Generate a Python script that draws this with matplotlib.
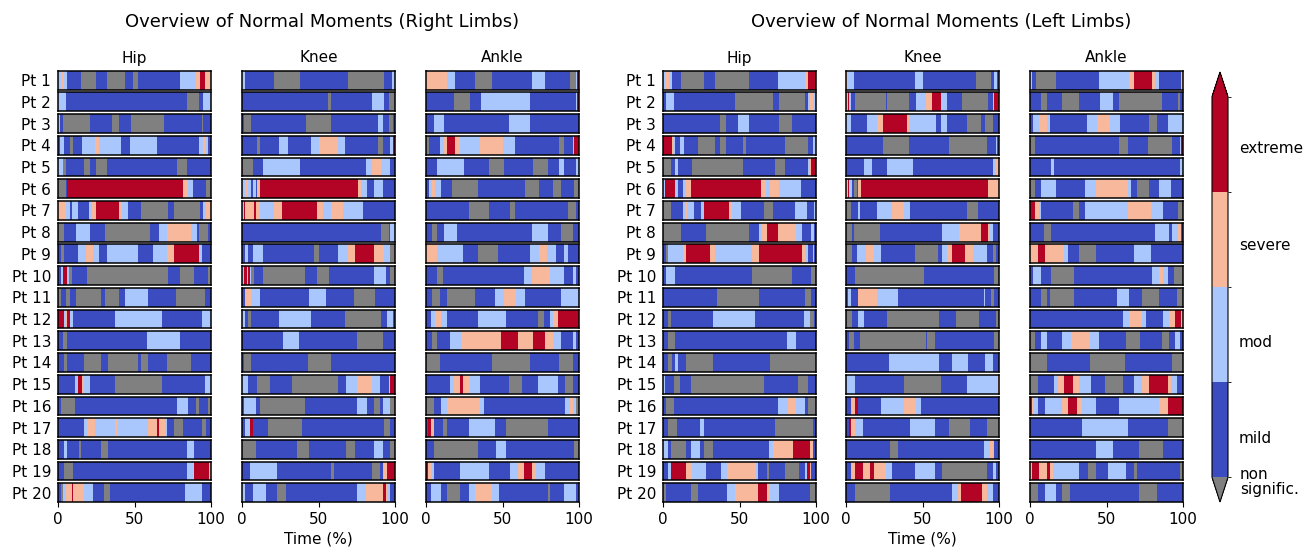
import matplotlib
matplotlib.use("Agg")
import matplotlib.pyplot as plt
import numpy as np
from matplotlib.colors import ListedColormap, BoundaryNorm

# ---------------- data ----------------
patients = [f"Pt {i}" for i in range(1, 21)]
joints = ["Hip", "Knee", "Ankle"]
level_names = ["mild", "mod", "severe", "extreme"]
under_name = "non\nsignific."
# segment codes: N=non significant, B=mild, L=mod, S=severe, R=extreme; number = segment end (% of time)
codes = {"N": 0, "B": 1, "L": 2, "S": 3, "R": 4}

right_hip = [
    "L2 S4 L6 B15 N25 B32 N44 B49 N52 B80 L90 S93 R96 S100",
    "L5 B84 N92 B95 L100",
    "L1 B3 N21 B35 N40 B48 N69 B94 N95 B100",
    "B1 L4 B8 N10 B16 L24 S27 L41 B47 L65 B92 L95 S97 L98 B100",
    "L3 N5 B17 N21 B25 N32 B78 N84 B100",
    "N5 B6 R82 S85 L88 B97 N100",
    "S5 L8 B9 L13 B20 L22 S25 R40 S42 L46 B54 N72 B76 N93 B95 L97 S100",
    "N4 B12 L21 B31 N60 B66 L71 S87 L91 B92 N98 B100",
    "B2 N4 B13 L18 S23 L27 B32 L52 B62 L71 S76 R92 L94 B100",
    "B2 L3 R6 L7 N9 B19 N72 B80 N89 B98 N100",
    "N2 B5 N8 B12 N28 B31 N40 B44 L59 B77 N96 B100",
    "R4 L5 S6 R8 L10 B37 L68 B94 L100",
    "B3 N6 B58 L80 B100",
    "B4 N6 B17 N28 B33 N52 B54 N59 B71 N87 B100",
    "B11 L13 R16 S17 L21 B37 N68 B96 L100",
    "B2 N11 B78 L85 B90 N92 B98 N100",
    "B17 L19 S24 L37 S39 L59 S65 R66 S70 L71 B76 N82 B94 N97 B100",
    "B4 L6 B14 N15 B28 N33 B84 L89 B100",
    "B4 N10 B84 L88 S89 R99 S100",
    "B2 N3 L5 S9 R10 S17 L23 B30 N34 B83 L94 B100",
]
right_knee = [
    "L2 B21 N38 B69 N93 B98 L100",
    "B56 N58 B85 L93 B96 N100",
    "B1 N6 B42 N58 B89 L92 B96 N99 B100",
    "B10 N12 B24 L30 B45 L50 S63 L67 B89 N92 B97 L99 R100",
    "N7 B14 L38 B81 L85 S91 L97 B100",
    "L2 S4 L6 B7 L9 B10 S12 R76 S78 L82 B86 L92 B100",
    "L1 R2 S8 R9 S12 L21 S26 R49 S53 L58 S66 L79 B100",
    "B91 N96 B97 L100",
    "B2 L4 B7 L14 B47 N50 B63 L69 S74 R86 S93 L97 N100",
    "L1 R3 S4 R5 L6 N8 B14 N41 B49 N57 B86 L94 B97 N100",
    "B2 S6 L12 B44 L55 B73 N87 B100",
    "L2 B4 N6 B24 L45 B67 N91 B95 L99 B100",
    "B27 L37 B75 N92 B100",
    "B1 N6 B43 N58 B100",
    "L4 B10 N18 B33 N63 B68 L75 S85 L90 B96 S97 R100",
    "B1 L9 B12 N41 B75 L82 B86 N90 B92 L97 N100",
    "B2 L5 R7 B17 N39 B93 N97 B100",
    "N9 B36 N44 B68 N74 B86 L92 B97 N100",
    "B5 L23 B58 N60 B85 N90 B92 L93 S95 R100",
    "L2 B7 L16 B23 N29 B75 L81 S92 R94 S95 L97 B100",
]
right_ankle = [
    "S14 L19 B32 N43 B69 L78 B94 N98 L99 R100",
    "B18 N29 B36 L68 B98 L99 R100",
    "B5 L12 B54 L68 B100",
    "N2 B9 L12 S14 R19 S22 L35 S50 L58 B87 N90 B96 L97 R100",
    "B7 L25 B41 N51 B70 N80 B87 L90 B98 L100",
    "B2 L4 S6 L10 B17 N34 B65 N74 B83 N88 B97 N100",
    "B28 N41 B55 N58 B93 N98 B100",
    "B4 N7 B12 L20 B69 L80 B88 N96 B100",
    "S7 L24 B34 N47 B68 L74 S79 L85 B90 L93 B100",
    "B7 N11 B64 L69 S81 L90 B96 L98 B100",
    "B4 N9 B14 N32 B45 L51 S59 L65 B88 L100",
    "B3 L6 S10 L14 B34 L52 B73 N77 B81 L83 S86 R100",
    "B4 N7 B16 L23 S49 R60 S70 R78 S83 L88 B96 L98 B100",
    "N9 B43 N68 B87 N96 B100",
    "B16 L18 S22 R24 S29 L35 B54 N63 B73 L86 B91 N96 B100",
    "N5 B10 L14 S35 L38 B91 L94 S96 L98 N100",
    "B1 R3 S5 B11 N14 B28 L45 B52 N80 B100",
    "B5 N34 B46 L52 B97 N100",
    "R1 S3 L5 B22 L41 B55 L60 S64 R69 S72 L78 B100",
    "B3 L10 B14 N22 B28 L32 S43 L48 B80 N81 B90 L98 B100",
]
left_hip = [
    "L1 S4 L6 B12 N27 B34 N56 B75 L93 S95 R100",
    "B2 L7 B47 N72 B76 N93 B95 L96 S98 L100",
    "B37 N41 B49 L56 B76 N84 B100",
    "R6 S7 L8 B11 L14 B23 N34 B37 N41 B52 N54 B80 N95 B98 L100",
    "N5 B8 L10 B19 N52 B73 N80 B95 L96 S97 R100",
    "L1 R8 L10 B13 L15 S18 R64 S67 L70 S76 L90 B100",
    "N5 B13 L15 S16 L20 B25 L27 R43 S45 L51 B66 N72 B86 L94 B99 L100",
    "N12 B28 N56 B63 L65 S68 R75 S87 L91 B97 L99 B100",
    "B2 N3 L13 S15 R31 S34 L58 S63 R91 S93 L95 B98 L99 B100",
    "B2 L8 B58 N84 B97 N100",
    "B35 N63 B93 N97 B100",
    "B3 N5 B33 L60 B92 L96 N99 B100",
    "B3 N8 B81 L87 B100",
    "B3 N6 B8 L10 B15 N33 B70 N100",
    "L1 B7 N11 B18 N66 B88 N95 B100",
    "B2 N7 B75 L82 S87 L93 B95 N100",
    "B3 N9 B24 L27 B73 N98 B100",
    "L3 B5 N15 B18 L24 B27 N33 B69 L72 S85 R96 S98 B100",
    "B3 L5 R15 S19 L28 B38 L42 S61 L62 B68 N69 B80 N89 B93 L94 R96 S97 B100",
    "N2 B18 N23 B42 L47 S62 R68 S70 L76 B96 N100",
]
left_knee = [
    "S1 L5 B45 L50 B85 N95 B97 L99 B100",
    "S1 R2 L3 B6 N26 B27 N41 B46 L52 S56 R62 S63 L66 B76 N93 B96 S97 R100",
    "L3 B14 L20 S24 R40 S41 L59 B62 L66 B79 N88 B91 N96 B100",
    "B24 N41 B67 N92 B98 L99 B100",
    "B12 L17 B27 L44 B96 L98 S100",
    "S1 R2 L4 B5 N7 B8 S10 R93 S100",
    "N3 B8 L9 B20 L30 S38 L42 B79 N86 B100",
    "N4 B5 N22 B63 L74 S88 R93 S94 L96 B100",
    "N4 B7 L13 S18 L23 B45 N60 B63 L66 S69 R78 S83 L92 B96 N98 B100",
    "B6 N51 B97 N100",
    "B1 L3 B8 S20 L34 B90 L91 B95 N97 B100",
    "N4 B8 L12 B27 N61 B72 N87 B98 N100",
    "B2 N5 B9 N52 B53 N58 B97 N100",
    "B28 L61 B69 L80 B91 L96 B100",
    "L6 B38 N62 B79 L99 S100",
    "B3 L4 S6 R8 B23 L38 S46 L49 B100",
    "B2 R3 S6 L11 B42 L58 B67 N81 B92 N100",
    "B29 N34 B90 L94 S96 L97 B100",
    "B3 L4 S6 R11 S16 R18 S26 L30 B45 L58 B63 N92 B96 L98 B100",
    "B6 N29 B69 L73 S75 R89 S92 L96 B100",
]
left_ankle = [
    "L1 B4 N17 B45 L65 S68 R80 S82 L84 B99 S100",
    "B7 N11 B21 N32 B46 L54 B58 N86 B97 N98 B100",
    "B2 L6 S11 L13 B37 L44 S52 L59 B78 N83 B90 L100",
    "N3 B58 N64 B77 N93 B98 L99 R100",
    "B14 L16 B98 L100",
    "N3 B7 L17 B36 L43 S64 L66 B70 N78 B84 L92 B100",
    "R3 S6 L7 B28 N32 B36 L64 S79 L87 B97 N100",
    "B9 N14 B82 L91 B93 L97 S99 B100",
    "S5 R10 S22 L25 B32 N43 B68 L79 B100",
    "B2 L7 B14 N29 B80 L84 S87 L90 B94 N100",
    "B7 N11 B13 N29 B57 L65 B73 N84 B96 N100",
    "B61 L65 S73 L76 B87 L91 S95 R99 S100",
    "N3 B7 L11 B21 L27 S39 L45 B63 N72 B86 N91 B95 L98 B100",
    "N11 B39 N62 B93 N100",
    "N5 B16 L18 S22 R28 S32 L40 B49 N61 B68 L73 S78 R90 S92 L96 B100",
    "R1 S2 L5 B10 L21 S25 R31 S34 L43 B58 L84 S90 R100",
    "B34 L64 B90 N100",
    "B43 L54 B71 N87 B100",
    "S1 R6 S11 R13 S15 L32 B38 N43 B51 L63 B68 N70 B98 N100",
    "N5 B10 L17 B21 N26 B71 N83 B100",
]

groups = [
    ("Overview of Normal Moments (Right Limbs)", [right_hip, right_knee, right_ankle]),
    ("Overview of Normal Moments (Left Limbs)", [left_hip, left_knee, left_ankle]),
]

# ---------------- style ----------------
W, H = 1309, 547
fig = plt.figure(figsize=(W / 100, H / 100), dpi=100)

base = plt.get_cmap("coolwarm", 4)
cols = [base(i) for i in range(4)]
cmap = ListedColormap(cols)
cmap.set_under("gray")
cmap.set_over(cols[-1])
norm = BoundaryNorm([0.5, 1.5, 2.5, 3.5, 4.5], cmap.N)


def px_axes(x0, y0, w, h):
    return fig.add_axes([x0 / W, 1 - (y0 + h) / H, w / W, h / H])


def parse(s):
    ends = [0.0]
    cats = []
    for tok in s.split():
        cats.append(codes[tok[0]])
        ends.append(float(tok[1:]))
    return np.array(ends), np.array(cats)


col_left = [[58, 242, 426], [663, 846, 1030]]
col_w = 153
row_top0, row_pitch, row_h = 70.7, 21.72, 18.8
title_x = [322, 941]
fs = 11

for g, (title, panels) in enumerate(groups):
    fig.text(title_x[g] / W, 1 - 22 / H, title, ha="center", va="center", fontsize=13)
    for c, (jname, rows) in enumerate(zip(joints, panels)):
        x0 = col_left[g][c]
        fig.text((x0 + col_w / 2) / W, 1 - 58 / H, jname, ha="center", va="center", fontsize=fs)
        for r, s in enumerate(rows):
            ax = px_axes(x0, row_top0 + r * row_pitch, col_w, row_h)
            edges, cats = parse(s)
            ax.pcolormesh(edges, [0, 1], cats[None, :], cmap=cmap, norm=norm)
            ax.set_xlim(0, 100)
            ax.set_ylim(0, 1)
            for sp in ax.spines.values():
                sp.set_linewidth(1.1)
            if c == 0:
                ax.set_yticks([0.5])
                ax.set_yticklabels([patients[r]], fontsize=fs)
                ax.tick_params(axis="y", length=0, pad=5)
            else:
                ax.set_yticks([])
            if r == len(rows) - 1:
                ax.set_xticks([0, 50, 100])
                ax.tick_params(axis="x", labelsize=fs)
            else:
                ax.set_xticks([])
        if c == 1:
            fig.text((x0 + col_w / 2) / W, 1 - 531 / H, "Time (%)", ha="center", va="top", fontsize=fs)

# colorbar
cax = px_axes(1212, 72, 16, 430)
sm = plt.cm.ScalarMappable(cmap=cmap, norm=norm)
cb = fig.colorbar(sm, cax=cax, extend="both", extendfrac=0.065,
                  ticks=[0.92, 1.93, 2.95, 3.97])
cb.ax.set_yticklabels(level_names, fontsize=fs)
cb.ax.tick_params(length=0, pad=8)
cb.outline.set_linewidth(0.8)
fig.text(1240 / W, 1 - 482 / H, under_name, ha="left", va="center", fontsize=fs, linespacing=1.0)

fig.savefig("out.png", dpi=100)
